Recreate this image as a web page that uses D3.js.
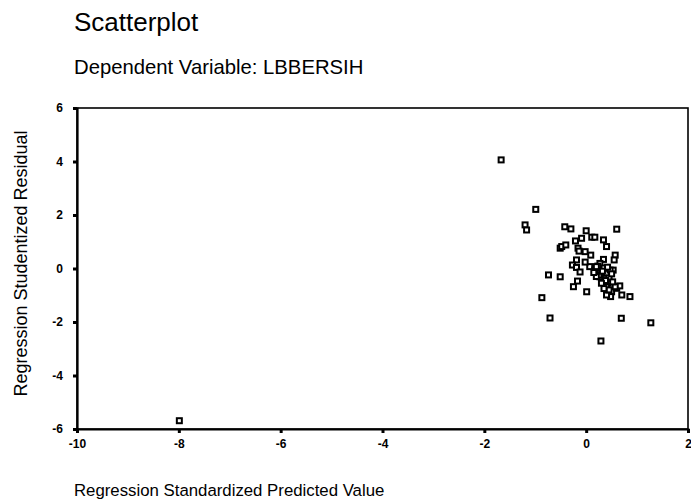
<!DOCTYPE html>
<html>
<head>
<meta charset="utf-8">
<script src="https://cdn.jsdelivr.net/npm/d3@7"></script>
<style>
  body { margin: 0; background: #fff; }
  text { font-family: Arial, "Liberation Sans", sans-serif; fill: #000; }
</style>
</head>
<body>
<svg id="chart" width="691" height="504"></svg>
<script>
// regression standardized predicted value (x) and studentized residual (y)
let predicted = [-1.67, -0.99, -1.20, -1.17, -0.42, -0.30, 0.00, -0.21, -0.09, 0.11, 0.17, 0.34, 0.60,
  -0.51, -0.48, -0.40, -0.16, -0.14, 0.40, -0.02, 0.09, -0.19, -0.27, -0.19, 0.57, 0.55, 0.34, 0.07,
  0.17, 0.27, 0.23, 0.35, 0.27, 0.40, 0.53, 0.37, 0.43, 0.40, 0.50, 0.60, 0.48, 0.66, 0.70, 0.86,
  -0.74, -0.51, -0.17, -0.25, 0.01, -0.87, 0.69, 1.27, -7.99, -0.71, 0.29, 0.20, 0.47, 0.27, 0.57,
  0.40, -0.12, -0.02, 0.25, 0.32, 0.45, 0.38, 0.30, 0.52, 0.45, 0.35, 0.20, 0.15, 0.42, 0.50]
let residual = [4.06, 2.21, 1.63, 1.44, 1.56, 1.48, 1.41, 1.03, 1.13, 1.17, 1.17, 1.07, 1.47,
  0.76, 0.82, 0.88, 0.76, 0.65, 0.82, 0.63, 0.50, 0.32, 0.13, 0.04, 0.50, 0.32, 0.34, 0.07,
  -0.06, 0.19, 0.09, 0.02, -0.18, -0.18, -0.06, -0.37, -0.55, -0.68, -0.87, -0.74, -1.05, -0.65, -0.99, -1.05,
  -0.24, -0.31, -0.47, -0.68, -0.87, -1.09, -1.86, -2.03, -5.69, -1.85, -2.71, 0.07, -0.06, -0.31, -0.68,
  -0.99, -0.13, 0.24, -0.25, -0.10, -0.35, -0.45, -0.55, -0.50, -0.80, -0.75, -0.30, -0.15, 0.05, -0.20]
let xTicks = [-10, -8, -6, -4, -2, 0, 2]
let yTicks = [-6, -4, -2, 0, 2, 4, 6]

let svg = d3.select("#chart")

let plotLeft = 77, plotRight = 688, plotTop = 108, plotBottom = 429

let xScale = d3.scaleLinear().domain([-10, 2]).range([plotLeft, plotRight])
let yScale = d3.scaleLinear().domain([-6, 6]).range([plotBottom, plotTop])

//titles
svg.append("text")
   .attr("x", 74).attr("y", 31)
   .style("font-size", "26px")
   .text("Scatterplot")
svg.append("text")
   .attr("x", 74).attr("y", 74)
   .style("font-size", "20.3px")
   .text("Dependent Variable: LBBERSIH")

//frame
svg.append("rect")
   .attr("x", plotLeft).attr("y", plotTop)
   .attr("width", plotRight - plotLeft).attr("height", plotBottom - plotTop)
   .attr("fill", "none")
   .attr("stroke", "black")
   .attr("stroke-width", 1.6)

//axes
let xAxis = d3.axisBottom(xScale).tickValues(xTicks).tickSize(4).tickPadding(6)
              .tickFormat((d) => String(d))
let yAxis = d3.axisLeft(yScale).tickValues(yTicks).tickSize(4).tickPadding(10)
              .tickFormat((d) => String(d))

let gx = svg.append("g")
   .attr("transform", `translate(0, ${plotBottom})`)
   .call(xAxis)
let gy = svg.append("g")
   .attr("transform", `translate(${plotLeft}, 0)`)
   .call(yAxis)

;[gx, gy].forEach((g) => {
    g.select(".domain").attr("stroke-width", 2.2)
    g.selectAll(".tick line").attr("stroke-width", 3)
    g.selectAll(".tick text")
     .style("font-size", "12px")
     .style("font-weight", "bold")
     .attr("font-family", null)
})

//axis titles
svg.append("text")
   .attr("x", 74).attr("y", 496)
   .style("font-size", "16.8px")
   .text("Regression Standardized Predicted Value")
svg.append("text")
   .attr("transform", `translate(27, ${yScale(0) - 5}) rotate(-90)`)
   .attr("text-anchor", "middle")
   .style("font-size", "18px")
   .text("Regression Studentized Residual")

//points
svg.selectAll(".pt")
   .data(predicted)
   .enter()
   .append("rect")
   .attr("class", "pt")
   .attr("x", (d) => xScale(d) - 2.5)
   .attr("y", (d, i) => yScale(residual[i]) - 2.5)
   .attr("width", 5)
   .attr("height", 5)
   .attr("fill", "white")
   .attr("stroke", "black")
   .attr("stroke-width", 2)
</script>
</body>
</html>
